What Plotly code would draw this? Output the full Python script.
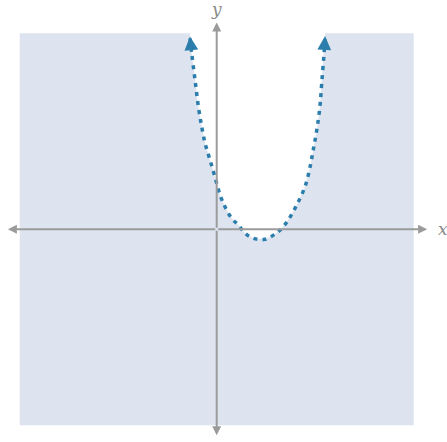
import plotly.graph_objects as go

# boundary curve (dashed, so strict inequality)
curve_x = [-1.355, -1.27, -1.10, -0.93, -0.76, -0.59, -0.34, -0.09, 0.17, 0.42,
           0.76, 1.10, 1.44, 1.86, 2.45, 2.96, 3.30, 3.63, 4.06, 4.48,
           4.74, 4.90, 5.08, 5.24, 5.33, 5.45, 5.50]
curve_y = [9.74, 8.98, 7.62, 6.26, 5.23, 4.39, 3.54, 2.68, 1.75, 1.15,
           0.56, 0.22, -0.20, -0.46, -0.51, -0.24, 0.05, 0.47, 1.24, 2.17,
           3.19, 4.05, 5.07, 6.26, 7.45, 8.98, 9.76]

# shaded window
win_min, win_max = -10, 10

shade = "#dde4f0"
curve_color = "#2b7dab"
axis_color = "#9b9b9b"

# shaded region = window minus the inside of the curve
reg_x = [win_min, curve_x[0]] + curve_x + [curve_x[-1], win_max, win_max, win_min, win_min]
reg_y = [win_max, win_max] + curve_y + [win_max, win_max, win_min, win_min, win_max]

fig = go.Figure()

fig.add_trace(go.Scatter(
    x=reg_x, y=reg_y,
    fill="toself", fillcolor=shade,
    mode="lines", line=dict(width=0),
    hoverinfo="skip", showlegend=False
))

fig.add_trace(go.Scatter(
    x=curve_x, y=curve_y,
    mode="lines",
    line=dict(color=curve_color, width=3.5, dash="4px,5px", shape="spline"),
    hoverinfo="skip", showlegend=False
))

anns = []
# axes with arrows at both ends
for hx, hy in [(10.68, 0), (-10.6, 0), (0, 10.55), (0, -10.5)]:
    anns.append(dict(
        x=hx, y=hy, ax=0, ay=0, xref="x", yref="y", axref="x", ayref="y",
        text="", showarrow=True, arrowhead=2, arrowsize=0.9, arrowwidth=2,
        arrowcolor=axis_color
    ))
# arrow tips on the curve
for i0, i1 in [(1, 0), (-2, -1)]:
    anns.append(dict(
        x=curve_x[i1], y=curve_y[i1] + 0.1, ax=curve_x[i0], ay=curve_y[i0],
        xref="x", yref="y", axref="x", ayref="y",
        text="", showarrow=True, arrowhead=2, arrowsize=1.1, arrowwidth=2.5,
        arrowcolor=curve_color
    ))
label_font = dict(family="DejaVu Serif, Liberation Serif, serif", size=17, color="#8a8a8a")
anns.append(dict(x=11.15, y=0, xref="x", yref="y", text="<i>x</i>", showarrow=False,
                 font=label_font, xanchor="left", yanchor="middle"))
anns.append(dict(x=0, y=1, xref="x", yref="paper", text="<i>y</i>", showarrow=False,
                 font=label_font, xanchor="center", yanchor="top", yshift=3))

fig.update_layout(
    width=447, height=442,
    margin=dict(l=0, r=0, t=0, b=0),
    plot_bgcolor="white", paper_bgcolor="white",
    annotations=anns,
    xaxis=dict(range=[-11.0, 11.69], showgrid=False, zeroline=False,
               showticklabels=False, fixedrange=True),
    yaxis=dict(range=[-10.85, 11.70], showgrid=False, zeroline=False,
               showticklabels=False, fixedrange=True),
)

fig.write_html("out.html", config={"displayModeBar": False},
               post_script="document.body.style.margin='0';")
